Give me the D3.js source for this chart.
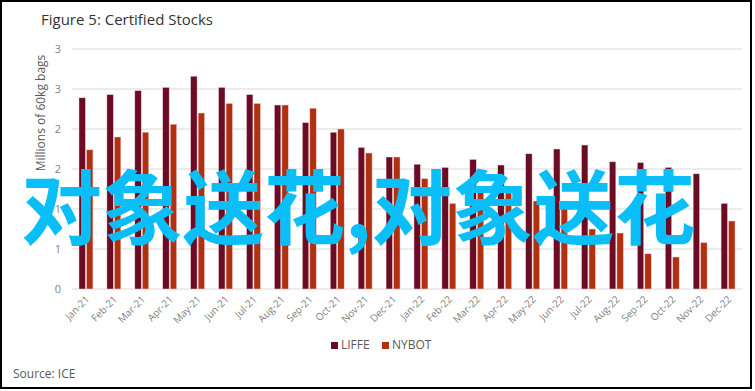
<!DOCTYPE html>
<html>
<head>
<meta charset="utf-8">
<script src="https://cdn.jsdelivr.net/npm/d3@7"></script>
<style>
  body { margin: 0; background: #fff; }
  svg { display: block; font-family: "Open Sans", "Noto Sans", sans-serif; }
</style>
</head>
<body>
<svg id="chart" width="755" height="391"></svg>
<script>
const months = ["Jan-21","Feb-21","Mar-21","Apr-21","May-21","Jun-21","Jul-21","Aug-21","Sep-21","Oct-21","Nov-21","Dec-21",
  "Jan-22","Feb-22","Mar-22","Apr-22","May-22","Jun-22","Jul-22","Aug-22","Sep-22","Oct-22","Nov-22","Dec-22"];
const liffe = [2.39,2.43,2.48,2.52,2.66,2.52,2.43,2.30,2.08,1.96,1.77,1.65,
  1.56,1.52,1.62,1.55,1.69,1.75,1.80,1.59,1.58,1.52,1.44,1.07];
const nybot = [1.74,1.90,1.96,2.06,2.20,2.32,2.32,2.30,2.26,2.00,1.70,1.65,
  1.38,1.07,1.22,1.20,1.10,1.03,0.75,0.70,0.44,0.40,0.58,0.85];
const seriesNames = ["LIFFE","NYBOT"];
const yTicks = [0,0.5,1,1.5,2,2.5,3];
const yTickLabels = ["0","1","1","2","2","3","3"];

const colors = {LIFFE: "#6b0b24", NYBOT: "#b1300f"};
const svg = d3.select("#chart");
const plotL = 72, plotR = 742, plotT = 49, plotB = 289;

// outer frame
svg.append("rect").attr("x", 1).attr("y", 1).attr("width", 750).attr("height", 387)
  .attr("fill", "none").attr("stroke", "#000").attr("stroke-width", 2);

svg.append("text").attr("x", 41).attr("y", 25).attr("font-size", 15).attr("fill", "#333")
  .text("Figure 5: Certified Stocks");

const x = d3.scaleBand().domain(months).range([plotL, plotR]).paddingInner(0.5).paddingOuter(0.25);
const xs = d3.scaleBand().domain(seriesNames).range([0, x.bandwidth()]).paddingInner(0.14);
const y = d3.scaleLinear().domain([0, 3]).range([plotB, plotT]);

// grid
svg.append("g").selectAll("line").data(yTicks).join("line")
  .attr("x1", plotL).attr("x2", plotR)
  .attr("y1", d => y(d)).attr("y2", d => y(d))
  .attr("stroke", "#d9d9d9").attr("stroke-width", 1.2);

svg.append("g").selectAll("text").data(yTicks).join("text")
  .attr("x", 61).attr("y", d => y(d) + 4).attr("text-anchor", "end")
  .attr("font-size", 11).attr("fill", "#7f7f7f")
  .text((d, i) => yTickLabels[i]);

svg.append("text").attr("transform", "translate(45,113) rotate(-90)")
  .attr("text-anchor", "middle").attr("font-size", 12).attr("fill", "#595959")
  .text("Millions of 60kg bags");

// bars
const rows = months.map((m, i) => ({m, LIFFE: liffe[i], NYBOT: nybot[i]}));
const groups = svg.append("g").selectAll("g").data(rows).join("g")
  .attr("transform", d => `translate(${x(d.m)},0)`);
groups.selectAll("rect").data(d => seriesNames.map(k => ({k, v: d[k]}))).join("rect")
  .attr("x", d => xs(d.k)).attr("width", xs.bandwidth())
  .attr("y", d => y(d.v)).attr("height", d => y(0) - y(d.v))
  .attr("fill", d => colors[d.k])
  .attr("stroke", "#f4d6dc").attr("stroke-width", 0.5);

// x labels
svg.append("g").selectAll("text").data(months).join("text")
  .attr("transform", d => `translate(${x(d) + x.bandwidth() / 2 + 4},300) rotate(-45)`)
  .attr("text-anchor", "end").attr("font-size", 10).attr("fill", "#7f7f7f")
  .text(d => d);

// legend
const legend = svg.append("g").selectAll("g").data(seriesNames).join("g")
  .attr("transform", (d, i) => `translate(${331 + i * 51},342)`);
legend.append("rect").attr("width", 7).attr("height", 7).attr("fill", d => colors[d]);
legend.append("text").attr("x", 10).attr("y", 7).attr("font-size", 12).attr("fill", "#595959")
  .text(d => d);

svg.append("text").attr("x", 13).attr("y", 378).attr("font-size", 12).attr("fill", "#595959")
  .text("Source: ICE");

// watermark overlay
svg.append("text").attr("x", 21).attr("y", 238)
  .attr("font-family", "'Noto Sans CJK SC', sans-serif").attr("font-weight", "bold")
  .attr("font-size", 81).attr("fill", "#0abef8")
  .text("对象送花,对象送花");
</script>
</body>
</html>
